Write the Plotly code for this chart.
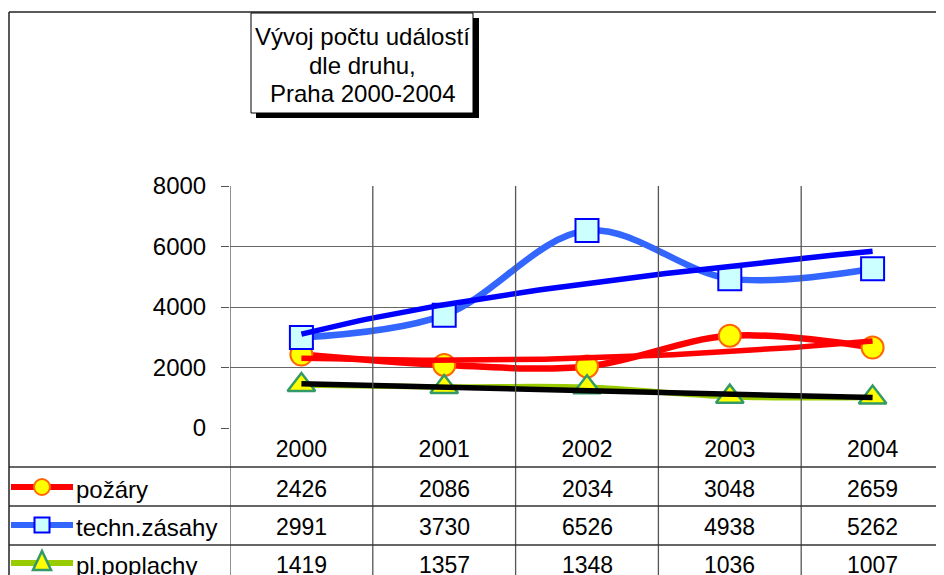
import numpy as np
import plotly.graph_objects as go

years = ["2000", "2001", "2002", "2003", "2004"]
pozary = [2426, 2086, 2034, 3048, 2659]
techn = [2991, 3730, 6526, 4938, 5262]
poplachy = [1419, 1357, 1348, 1036, 1007]
series_names = ["požáry", "techn.zásahy", "pl.poplachy"]
title_lines = ["Vývoj počtu událostí", "dle druhu,", "Praha 2000-2004"]
y_ticks = [0, 2000, 4000, 6000, 8000]

# page body has 8px margin: figure origin is at screen (8, 8)
OFF = 8
SW, SH = 944, 575
W, H = SW - OFF, SH - OFF
# plot area in screen pixels
PL, PR, PT, PB = 230, 944, 186, 428
L, R, T, B = PL - OFF, SW - PR, PT - OFF, SH - PB
PW, PH = PR - PL, PB - PT
FONT = "Liberation Sans, Arial, sans-serif"
FS_NUM = 23
FS_TXT = 24


def pxx(p):
    return (p - PL) / PW


def pxy(p):
    return (PB - p) / PH


xi = list(range(len(years)))
xd = np.linspace(0, len(years) - 1, 81)


def trend_poly2(vals):
    c = np.polyfit(xi, vals, 2)
    return np.polyval(c, xd)


def trend_power(vals):
    lx = np.log(np.array(xi) + 1.0)
    ly = np.log(np.array(vals, dtype=float))
    b, a = np.polyfit(lx, ly, 1)
    return np.exp(a) * (xd + 1.0) ** b


def trend_linear(vals):
    c = np.polyfit(xi, vals, 1)
    return np.polyval(c, xd)


fig = go.Figure()

styles = [
    (pozary, "#FF0000", 6.5, dict(symbol="circle", size=22, color="#FFFF00", line=dict(color="#FF6600", width=2))),
    (techn, "#3366FF", 6.5, dict(symbol="square", size=23, color="#CCFFFF", line=dict(color="#0000FF", width=2))),
    (poplachy, "#99CC00", 5.5, dict(symbol="triangle-up", size=24, color="#FFFF00", line=dict(color="#339966", width=2.5))),
]
for (vals, col, w, mk), name in zip(styles, series_names):
    fig.add_trace(go.Scatter(x=xi, y=vals, mode="lines+markers", name=name,
                             line=dict(color=col, width=w, shape="spline", smoothing=1.0),
                             marker=mk, cliponaxis=False, showlegend=False))

for yv, col in [(trend_power(techn), "#0000FF"), (trend_poly2(pozary), "#FF0000"),
                (trend_linear(poplachy), "#000000")]:
    fig.add_trace(go.Scatter(x=xd, y=yv, mode="lines",
                             line=dict(color=col, width=5.5), showlegend=False, hoverinfo="skip"))

shapes = []
annotations = []
# vertical category boundaries through plot and table
for k in range(len(years) + 1):
    shapes.append(dict(type="line", xref="x", yref="paper", x0=k - 0.5, x1=k - 0.5,
                       y0=pxy(SH + 2), y1=1, line=dict(color="#555555", width=1.3)))
# table horizontal lines
row_tops = [467, 506, 545]
for ry in row_tops:
    shapes.append(dict(type="line", xref="paper", yref="paper", x0=pxx(9), x1=1.01,
                       y0=pxy(ry), y1=pxy(ry), line=dict(color="#333333", width=1.3)))
# outer border
shapes.append(dict(type="line", xref="paper", yref="paper", x0=pxx(9), x1=pxx(9),
                   y0=pxy(12), y1=pxy(SH + 5), line=dict(color="#222222", width=1.5)))
shapes.append(dict(type="line", xref="paper", yref="paper", x0=pxx(9), x1=1.01,
                   y0=pxy(12), y1=pxy(12), line=dict(color="#222222", width=1.5)))
# title box shadow + box
shapes.append(dict(type="rect", xref="paper", yref="paper", x0=pxx(256), x1=pxx(479),
                   y0=pxy(118), y1=pxy(18), fillcolor="#000000", line=dict(width=0)))
shapes.append(dict(type="rect", xref="paper", yref="paper", x0=pxx(251), x1=pxx(473),
                   y0=pxy(113), y1=pxy(13), fillcolor="#FFFFFF", line=dict(color="#000000", width=1)))
for line_txt, ty in zip(title_lines, [36, 65, 93]):
    annotations.append(dict(text=line_txt, xref="paper", yref="paper", x=pxx(362), y=pxy(ty),
                            xanchor="center", yanchor="middle", showarrow=False,
                            font=dict(family=FONT, size=FS_TXT, color="#000000")))

# table rows
row_centers = [489, 527, 565]
line_y = [487, 525, 563]
data_rows = [pozary, techn, poplachy]
legend_cols = [("#FF0000", "#FFFF00", "#FF6600"), ("#3366FF", "#CCFFFF", "#0000FF"), ("#99CC00", "#FFFF00", "#339966")]
for r, (vals, name) in enumerate(zip(data_rows, series_names)):
    lc, fc, bc = legend_cols[r]
    ly = line_y[r]
    shapes.append(dict(type="line", xref="paper", yref="paper", x0=pxx(11), x1=pxx(73),
                       y0=pxy(ly), y1=pxy(ly), line=dict(color=lc, width=6)))
    cx = 42
    if r == 0:
        shapes.append(dict(type="circle", xref="paper", yref="paper", x0=pxx(cx - 8), x1=pxx(cx + 8),
                           y0=pxy(ly + 8), y1=pxy(ly - 8), fillcolor=fc, line=dict(color=bc, width=2)))
    elif r == 1:
        shapes.append(dict(type="rect", xref="paper", yref="paper", x0=pxx(cx - 7.5), x1=pxx(cx + 7.5),
                           y0=pxy(ly + 7.5), y1=pxy(ly - 7.5), fillcolor=fc, line=dict(color=bc, width=2)))
    else:
        path = "M {},{} L {},{} L {},{} Z".format(pxx(cx - 9), pxy(ly + 7), pxx(cx + 9), pxy(ly + 7),
                                                 pxx(cx), pxy(ly - 12))
        shapes.append(dict(type="path", xref="paper", yref="paper", path=path,
                           fillcolor=fc, line=dict(color=bc, width=2.5)))
    annotations.append(dict(text=name, xref="paper", yref="paper", x=pxx(74), y=pxy(row_centers[r]),
                            xanchor="left", yanchor="middle", showarrow=False,
                            font=dict(family=FONT, size=FS_TXT, color="#000000")))
    for i, v in enumerate(vals):
        annotations.append(dict(text=str(v), xref="x", yref="paper", x=i, y=pxy(row_centers[r]),
                                xanchor="center", yanchor="middle", showarrow=False,
                                font=dict(family=FONT, size=FS_NUM, color="#000000")))

fig.update_layout(
    width=W, height=H,
    margin=dict(l=L, r=R, t=T, b=B, pad=0),
    paper_bgcolor="#FFFFFF", plot_bgcolor="#FFFFFF",
    font=dict(family=FONT, size=FS_NUM, color="#000000"),
    shapes=shapes, annotations=annotations,
    xaxis=dict(range=[-0.5, len(years) - 0.5], tickvals=xi, ticktext=years, showgrid=False,
               zeroline=False, showline=False, ticks="", ticklabelstandoff=5,
               tickfont=dict(family=FONT, size=FS_NUM, color="#000000")),
    yaxis=dict(range=[0, 8000], tickvals=y_ticks, showgrid=True, gridcolor="#666666", gridwidth=1.3,
               zeroline=False, showline=False, ticks="outside", ticklen=8, tickcolor="#555555",
               ticklabelstandoff=10, tickfont=dict(family=FONT, size=FS_TXT, color="#000000")),
)

fig.write_html("out.html")
